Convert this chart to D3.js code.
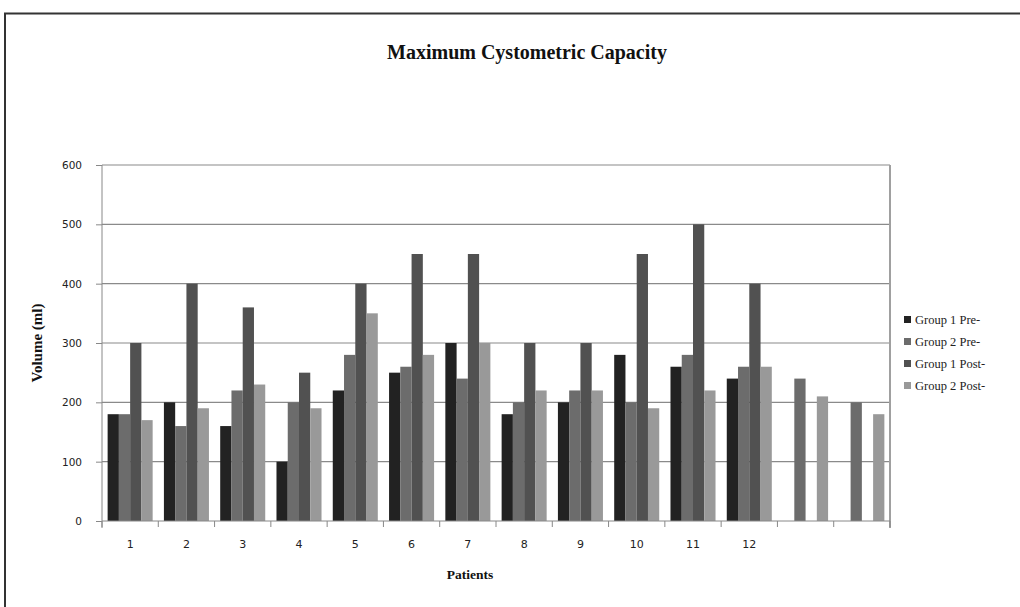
<!DOCTYPE html>
<html>
<head>
<meta charset="utf-8">
<script src="https://cdn.jsdelivr.net/npm/d3@7/dist/d3.min.js"></script>
<style>
html,body{margin:0;padding:0;background:#fff;}
svg{display:block;}
</style>
</head>
<body>
<svg id="chart" width="1020" height="607"></svg>
<script>
const categories = ["1","2","3","4","5","6","7","8","9","10","11","12","",""];
const seriesNames = ["Group 1 Pre-","Group 2 Pre-","Group 1 Post-","Group 2 Post-"];
const group1Pre  = [180,200,160,100,220,250,300,180,200,280,260,240,null,null];
const group2Pre  = [180,160,220,200,280,260,240,200,220,200,280,260,240,200];
const group1Post = [300,400,360,250,400,450,450,300,300,450,500,400,null,null];
const group2Post = [170,190,230,190,350,280,300,220,220,190,220,260,210,180];
const yTicks = [0,100,200,300,400,500,600];
const colors = ["#222222","#6c6c6c","#515151","#999999"];

(function(){
const series = [group1Pre, group2Pre, group1Post, group2Post];

const svg = d3.select("#chart");
const pLeft = 102, pRight = 890, pTop = 165, pBottom = 521;

// outer frame (cropped box)
svg.append("path").attr("d","M5,607 V13.5 H1020").attr("fill","none").attr("stroke","#333").attr("stroke-width",2);

const x0 = d3.scaleBand().domain(d3.range(categories.length)).range([pLeft,pRight]).paddingInner(0.2).paddingOuter(0.1);
const x1 = d3.scaleBand().domain(d3.range(seriesNames.length)).range([0,x0.bandwidth()]);
const y = d3.scaleLinear().domain([0,600]).range([pBottom,pTop]);

// gridlines
svg.append("g").selectAll("line").data(yTicks.filter(d=>d>0)).join("line")
  .attr("x1",pLeft).attr("x2",pRight).attr("y1",d=>y(d)).attr("y2",d=>y(d))
  .attr("stroke","#8a8a8a").attr("stroke-width",1.2);

// right border of plot
svg.append("line").attr("x1",pRight).attr("x2",pRight).attr("y1",pTop).attr("y2",pBottom+7)
  .attr("stroke","#a0a0a0").attr("stroke-width",2);

// bars
const g = svg.append("g");
categories.forEach((c,i)=>{
  series.forEach((s,k)=>{
    const v = s[i];
    if (v==null) return;
    g.append("rect")
      .attr("x", x0(i)+x1(k))
      .attr("width", x1.bandwidth())
      .attr("y", y(v))
      .attr("height", y(0)-y(v))
      .attr("fill", colors[k]);
  });
});

// y axis
const yAxis = d3.axisLeft(y).tickValues(yTicks).tickSize(6).tickPadding(14);
const ya = svg.append("g").attr("transform",`translate(${pLeft},0)`).call(yAxis);
ya.select(".domain").attr("stroke","#888").attr("d",`M0,${pTop}V${pBottom+7}`);
ya.selectAll(".tick line").attr("stroke","#888");
ya.selectAll("text").attr("font-family","DejaVu Sans, Verdana, sans-serif").attr("font-size",10.5).attr("fill","#222");

// x axis: category boundaries as ticks
const xLine = svg.append("g");
xLine.append("line").attr("x1",pLeft).attr("x2",pRight).attr("y1",pBottom).attr("y2",pBottom).attr("stroke","#888");
const step = (pRight-pLeft)/categories.length;
const bounds = d3.range(categories.length+1).map(i=>pLeft+i*step);
xLine.selectAll("line.t").data(bounds).join("line").attr("class","t")
  .attr("x1",d=>d).attr("x2",d=>d).attr("y1",pBottom).attr("y2",pBottom+6).attr("stroke","#888");
svg.append("g").selectAll("text").data(categories).join("text")
  .attr("x",(d,i)=>x0(i)+x0.bandwidth()/2).attr("y",548)
  .attr("text-anchor","middle").attr("font-family","DejaVu Sans, Verdana, sans-serif")
  .attr("font-size",11).attr("fill","#222").text(d=>d);

// titles
svg.append("text").attr("x",527).attr("y",59).attr("text-anchor","middle")
  .attr("font-family","Liberation Serif, Times New Roman, serif").attr("font-weight","bold")
  .attr("font-size",20).attr("fill","#111").text("Maximum Cystometric Capacity");
svg.append("text").attr("x",470).attr("y",579).attr("text-anchor","middle")
  .attr("font-family","Liberation Serif, Times New Roman, serif").attr("font-weight","bold")
  .attr("font-size",13.5).attr("fill","#111").text("Patients");
svg.append("text").attr("transform","translate(42,343) rotate(-90)").attr("text-anchor","middle")
  .attr("font-family","Liberation Serif, Times New Roman, serif").attr("font-weight","bold")
  .attr("font-size",15).attr("fill","#111").text("Volume (ml)");

// legend
const leg = svg.append("g").attr("transform","translate(904,320)");
seriesNames.forEach((n,k)=>{
  const row = leg.append("g").attr("transform",`translate(0,${k*22})`);
  row.append("rect").attr("x",0).attr("y",-4).attr("width",7).attr("height",7).attr("fill",colors[k]);
  row.append("text").attr("x",11).attr("y",4)
    .attr("font-family","Liberation Serif, Times New Roman, serif").attr("font-size",12.5)
    .attr("fill","#222").text(n);
});
})();
</script>
</body>
</html>
